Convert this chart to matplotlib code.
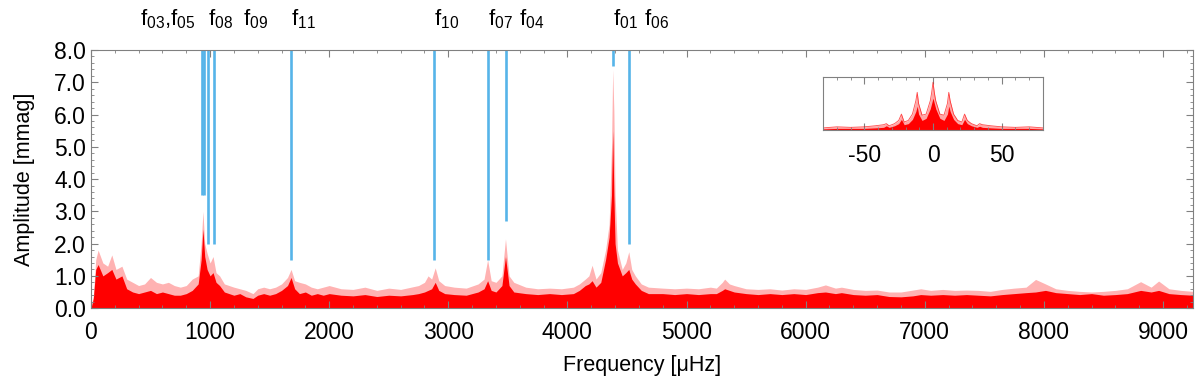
import numpy as np
import matplotlib
matplotlib.use("Agg")
import matplotlib.pyplot as plt
from matplotlib.ticker import MultipleLocator, FormatStrFormatter

# ---------------------------
# DATOS
# ---------------------------

# frecuencia [uHz]
freq = [0, 20, 40, 60, 100, 140, 175, 210, 260, 300,
        350, 400, 450, 500, 550, 600, 650, 700, 750, 800,
        850, 900, 925, 940, 955, 975, 1000, 1025, 1050, 1080,
        1120, 1200, 1250, 1300, 1360, 1400, 1450, 1500, 1550, 1600,
        1650, 1680, 1710, 1750, 1800, 1850, 1900, 1950, 2000, 2100,
        2200, 2300, 2400, 2500, 2600, 2700, 2750, 2800, 2830, 2860,
        2890, 2920, 2970, 3050, 3150, 3250, 3300, 3330, 3360, 3400,
        3450, 3480, 3510, 3550, 3650, 3750, 3850, 3950, 4050, 4100,
        4150, 4180, 4207, 4240, 4280, 4320, 4350, 4370, 4380, 4390,
        4400, 4420, 4460, 4490, 4515, 4540, 4570, 4620, 4680, 4800,
        4900, 5000, 5100, 5200, 5250, 5300, 5320, 5360, 5400, 5500,
        5600, 5700, 5800, 5900, 6000, 6100, 6166, 6250, 6300, 6400,
        6500, 6600, 6700, 6800, 6900, 6966, 7050, 7150, 7250, 7350,
        7450, 7550, 7650, 7750, 7850, 7930, 8013, 8100, 8200, 8300,
        8400, 8500, 8600, 8700, 8812, 8900, 8963, 9050, 9150, 9250]

# amplitud del nucleo denso [mmag]
amp_core = [0.0, 0.3, 1.2, 1.35, 1.0, 1.1, 1.2, 0.9, 1.0, 0.6,
            0.5, 0.45, 0.5, 0.55, 0.45, 0.5, 0.45, 0.4, 0.4, 0.45,
            0.55, 0.75, 1.5, 2.45, 1.6, 1.2, 1.0, 1.1, 0.8, 0.7,
            0.5, 0.4, 0.45, 0.35, 0.3, 0.4, 0.45, 0.4, 0.45, 0.55,
            0.7, 0.95, 0.6, 0.45, 0.5, 0.4, 0.45, 0.4, 0.45, 0.4,
            0.38, 0.42, 0.36, 0.4, 0.38, 0.42, 0.45, 0.5, 0.55, 0.6,
            0.8, 0.55, 0.45, 0.42, 0.4, 0.5, 0.6, 0.85, 0.55, 0.5,
            0.7, 1.6, 0.7, 0.5, 0.45, 0.42, 0.45, 0.42, 0.45, 0.55,
            0.7, 0.75, 0.85, 0.65, 0.8, 1.5, 2.2, 3.5, 5.5, 3.5,
            2.0, 1.4, 1.0, 1.1, 1.2, 0.9, 0.75, 0.55, 0.45, 0.45,
            0.42, 0.45, 0.42, 0.45, 0.45, 0.55, 0.6, 0.55, 0.5, 0.45,
            0.42, 0.45, 0.42, 0.45, 0.42, 0.48, 0.5, 0.45, 0.48, 0.42,
            0.4, 0.42, 0.36, 0.35, 0.38, 0.42, 0.4, 0.42, 0.4, 0.42,
            0.4, 0.38, 0.42, 0.45, 0.48, 0.5, 0.55, 0.48, 0.45, 0.42,
            0.45, 0.4, 0.42, 0.45, 0.55, 0.5, 0.55, 0.45, 0.42, 0.4]

# amplitud de los picos claros [mmag]
amp_peak = [0.0, 0.4, 1.5, 1.8, 1.4, 1.3, 1.65, 1.2, 1.3, 0.9,
            0.8, 0.7, 0.75, 0.95, 0.8, 0.75, 0.8, 0.7, 0.65, 0.7,
            0.9, 1.0, 2.0, 3.0, 2.0, 1.7, 1.4, 1.6, 1.1, 1.0,
            0.75, 0.65, 0.6, 0.55, 0.45, 0.6, 0.65, 0.6, 0.65, 0.75,
            0.95, 1.2, 0.85, 0.8, 0.75, 0.65, 0.6, 0.65, 0.7, 0.6,
            0.58, 0.65, 0.55, 0.62, 0.58, 0.66, 0.7, 0.8, 1.0, 0.9,
            1.25, 0.85, 0.7, 0.65, 0.62, 0.75, 0.9, 1.5, 0.85, 0.8,
            1.0, 2.15, 1.0, 0.8, 0.65, 0.6, 0.62, 0.6, 0.65, 0.75,
            0.9, 1.0, 1.33, 0.9, 1.1, 1.8, 2.6, 5.0, 7.4, 6.1,
            3.5, 1.8, 1.2, 1.4, 1.75, 1.2, 1.0, 0.75, 0.65, 0.62,
            0.6, 0.62, 0.6, 0.65, 0.62, 0.8, 0.9, 0.75, 0.7, 0.6,
            0.58, 0.6, 0.56, 0.6, 0.58, 0.65, 0.72, 0.62, 0.65, 0.58,
            0.55, 0.56, 0.5, 0.5, 0.56, 0.6, 0.55, 0.58, 0.55, 0.56,
            0.55, 0.52, 0.58, 0.62, 0.65, 0.89, 0.75, 0.6, 0.55, 0.52,
            0.5, 0.52, 0.55, 0.6, 0.82, 0.65, 0.84, 0.6, 0.55, 0.52]

# frecuencias identificadas: posicion y extremo inferior de la linea
freq_modos = [932, 947, 985, 1035, 1677, 2882, 3330, 3487, 4380, 4518]
base_modos = [3.5, 3.5, 2.0, 2.0, 1.5, 1.5, 1.5, 2.7, 7.5, 2.0]

# etiquetas de arriba y su x (borde izquierdo, en uHz)
etiquetas = ["f$_{03}$,f$_{05}$", "f$_{08}$", "f$_{09}$", "f$_{11}$", "f$_{10}$",
             "f$_{07}$", "f$_{04}$", "f$_{01}$", "f$_{06}$"]
x_etiquetas = [412, 983, 1277, 1680, 2881, 3335, 3595, 4382, 4645]

# ventana espectral (recuadro)
win_x = [-80, -70, -60, -50, -42, -36, -34, -32, -28, -25,
         -23, -21, -18, -15, -12.5, -11.5, -10.5, -8, -5, -2,
         -1, 0, 1, 2, 5, 8, 10.5, 11.5, 12.5, 15,
         18, 21, 23, 25, 28, 32, 34, 36, 42, 50,
         60, 70, 80]
win_core = [0.02, 0.03, 0.03, 0.03, 0.04, 0.05, 0.08, 0.05, 0.08, 0.12,
            0.2, 0.1, 0.12, 0.2, 0.35, 0.45, 0.3, 0.18, 0.22, 0.4,
            0.5, 0.6, 0.5, 0.4, 0.22, 0.18, 0.3, 0.45, 0.35, 0.2,
            0.12, 0.1, 0.2, 0.12, 0.08, 0.05, 0.07, 0.05, 0.04, 0.03,
            0.03, 0.03, 0.02]
win_peak = [0.04, 0.06, 0.05, 0.06, 0.08, 0.1, 0.12, 0.08, 0.12, 0.18,
            0.3, 0.15, 0.18, 0.3, 0.55, 0.71, 0.5, 0.28, 0.3, 0.55,
            0.7, 0.9, 0.7, 0.55, 0.3, 0.28, 0.5, 0.71, 0.55, 0.3,
            0.18, 0.15, 0.3, 0.18, 0.12, 0.08, 0.12, 0.1, 0.08, 0.06,
            0.05, 0.06, 0.04]

# ---------------------------
# ESTILO
# ---------------------------

plt.rcParams["font.family"] = ["Liberation Sans", "DejaVu Sans"]
plt.rcParams["mathtext.fontset"] = "custom"
plt.rcParams["mathtext.rm"] = "Liberation Sans"
plt.rcParams["mathtext.it"] = "Liberation Sans"
plt.rcParams["mathtext.default"] = "regular"
plt.rcParams["axes.unicode_minus"] = False
plt.rcParams["font.size"] = 15.5

ROJO = "#ff0000"
AZUL = "#56b4e9"
GRIS = "#808080"


def config_ticks(ax):
    for s in ax.spines.values():
        s.set_color(GRIS)
    ax.tick_params(which="both", direction="in", top=True, right=True, color=GRIS,
                   labelsize=16.5)
    ax.tick_params(which="major", length=5, width=0.8)
    ax.tick_params(which="minor", length=2.5, width=0.6)


# ---------------------------
# FIGURA
# ---------------------------

fig = plt.figure(figsize=(12, 3.79), dpi=100)
ax = fig.add_axes([0.0758, 0.187, 0.9182, 0.681])

ax.fill_between(freq, 0, amp_peak, color=ROJO, alpha=0.3, lw=0)
ax.fill_between(freq, 0, amp_core, color=ROJO, lw=0)

ax.vlines(freq_modos, base_modos, 8.0, color=AZUL, lw=1.9)

for txt, xt in zip(etiquetas, x_etiquetas):
    ax.text(xt, 8.77, txt, ha="left", va="baseline", clip_on=False, fontsize=16)

ax.set_xlim(0, 9250)
ax.set_ylim(0, 8)
ax.xaxis.set_major_locator(MultipleLocator(1000))
ax.xaxis.set_minor_locator(MultipleLocator(200))
ax.yaxis.set_major_locator(MultipleLocator(1.0))
ax.yaxis.set_minor_locator(MultipleLocator(0.2))
ax.yaxis.set_major_formatter(FormatStrFormatter("%.1f"))
ax.set_xlabel("Frequency [\u03bcHz]", labelpad=8)
ax.set_ylabel("Amplitude [mmag]", labelpad=14)
config_ticks(ax)
ax.tick_params(axis="x", pad=9)

# recuadro con la ventana espectral
axin = fig.add_axes([0.686, 0.657, 0.183, 0.140])
axin.fill_between(win_x, 0, win_peak, color=ROJO, alpha=0.35, lw=0)
axin.fill_between(win_x, 0, win_core, color=ROJO, lw=0)
axin.plot(win_x, win_peak, color=ROJO, lw=0.6, alpha=0.7)
axin.set_xlim(-80, 80)
axin.set_ylim(0, 1.0)
axin.set_xticks([-50, 0, 50])
axin.xaxis.set_minor_locator(MultipleLocator(10))
axin.set_yticks([])
config_ticks(axin)
axin.tick_params(which="both", right=False, left=False)
axin.tick_params(axis="x", pad=10)

fig.savefig("out.png", dpi=100)
